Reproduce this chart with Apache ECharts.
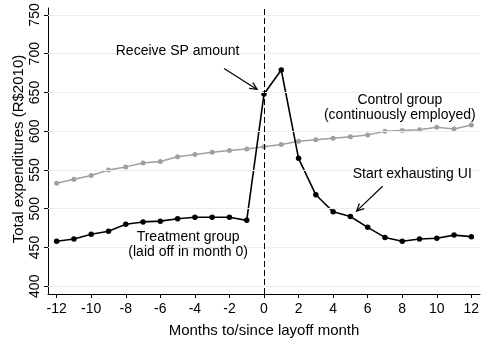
<!DOCTYPE html>
<html>
<head>
<meta charset="utf-8">
<script src="https://cdn.jsdelivr.net/npm/echarts@6/dist/echarts.min.js"></script>
<style>
  html, body { margin: 0; padding: 0; background: #ffffff; }
  #chart { width: 483px; height: 343px; }
</style>
</head>
<body>
<div id="chart"></div>
<script>
// Months relative to the layoff month
const months = [-12, -11, -10, -9, -8, -7, -6, -5, -4, -3, -2, -1, 0,
                1, 2, 3, 4, 5, 6, 7, 8, 9, 10, 11, 12];

// Average total expenditures (R$2010)
const controlGroup = [533, 538, 543, 550, 554, 559, 561, 567, 570, 573, 575, 577, 580,
                      583, 587, 589, 591, 593, 595, 600, 601, 602, 605, 603, 608];
const treatmentGroup = [458, 461, 467, 471, 480, 483, 484, 487, 489, 489, 489, 485, 648,
                        679, 565, 518, 496, 490, 476, 463, 458, 461, 462, 466, 464];

// Tick labels
const xTicks = [-12, -10, -8, -6, -4, -2, 0, 2, 4, 6, 8, 10, 12];
const yTicks = [400, 450, 500, 550, 600, 650, 700, 750];

const FONT = '"Liberation Sans", Arial, Helvetica, sans-serif';

const chart = echarts.init(document.getElementById('chart'), null, { renderer: 'canvas' });

const pairs = (vals) => months.map((m, i) => [m, vals[i]]);

chart.setOption({
  animation: false,
  backgroundColor: '#ffffff',
  grid: { left: 48, right: 3, top: 8, bottom: 40, containLabel: false },
  xAxis: {
    type: 'value',
    min: -12.5,
    max: 12.5,
    name: 'Months to/since layoff month',
    nameLocation: 'middle',
    nameGap: 29,
    nameTextStyle: { fontFamily: FONT, fontSize: 15, color: '#000' },
    axisLine: { show: true, onZero: false, lineStyle: { color: '#000', width: 1 } },
    axisTick: { show: true, length: 4, customValues: xTicks, lineStyle: { color: '#000' } },
    axisLabel: { customValues: xTicks, fontFamily: FONT, fontSize: 14, color: '#000', margin: 8 },
    splitLine: { show: false }
  },
  yAxis: {
    type: 'value',
    min: 390,
    max: 759,
    axisLine: { show: true, onZero: false, lineStyle: { color: '#000', width: 1 } },
    axisTick: { show: true, length: 4, customValues: yTicks, lineStyle: { color: '#000' } },
    axisLabel: { customValues: yTicks, rotate: 90, fontFamily: FONT, fontSize: 14, color: '#000', margin: 6 },
    splitLine: { show: false }
  },
  series: [
    {
      // horizontal grid lines and the layoff-month marker
      type: 'line',
      data: [],
      silent: true,
      z: 1,
      markLine: {
        silent: true,
        symbol: 'none',
        label: { show: false },
        animation: false,
        data: [
          ...yTicks.map(v => ({ yAxis: v, lineStyle: { color: '#e6eff1', width: 1, type: 'solid' } })),
          { xAxis: 0, lineStyle: { color: '#000', width: 1, type: [6, 3] } }
        ]
      }
    },
    {
      name: 'Control group',
      type: 'line',
      data: pairs(controlGroup),
      symbol: 'circle',
      symbolSize: 5,
      z: 3,
      itemStyle: { color: '#a0a0a0' },
      lineStyle: { color: '#a0a0a0', width: 1.5 }
    },
    {
      name: 'Treatment group',
      type: 'line',
      data: pairs(treatmentGroup),
      symbol: 'circle',
      symbolSize: 5.5,
      z: 4,
      itemStyle: { color: '#000' },
      lineStyle: { color: '#000', width: 1.6 }
    }
  ]
});

// Annotation texts and arrows, placed in data coordinates
const notes = [
  { text: 'Receive SP amount', at: [-5.0, 703] },
  { text: 'Control group\n(continuously employed)', at: [7.86, 630] },
  { text: 'Start exhausting UI', at: [8.58, 544] },
  { text: 'Treatment group\n(laid off in month 0)', at: [-4.39, 454] }
];
const arrows = [
  { from: [-2.31, 681], to: [-0.40, 654] },
  { from: [6.86, 529], to: [5.36, 497] }
];

const px = (p) => chart.convertToPixel({ gridIndex: 0 }, p);

const graphics = [
  {
    // vertical axis title
    type: 'text',
    x: 19, y: 149,
    rotation: Math.PI / 2,
    z: 10,
    style: {
      text: 'Total expenditures (R$2010)',
      fill: '#000',
      font: '15px ' + FONT,
      align: 'center',
      verticalAlign: 'middle'
    }
  }
];
notes.forEach(n => {
  const p = px(n.at);
  graphics.push({
    type: 'text',
    x: p[0], y: p[1],
    z: 10,
    style: {
      text: n.text,
      fill: '#000',
      font: '14px ' + FONT,
      align: 'center',
      verticalAlign: 'middle',
      lineHeight: 15
    }
  });
});
arrows.forEach(a => {
  const s = px(a.from), e = px(a.to);
  const ang = Math.atan2(s[1] - e[1], s[0] - e[0]);
  const len = 8, spread = 0.45;
  const h1 = [e[0] + len * Math.cos(ang + spread), e[1] + len * Math.sin(ang + spread)];
  const h2 = [e[0] + len * Math.cos(ang - spread), e[1] + len * Math.sin(ang - spread)];
  graphics.push({
    type: 'polyline', z: 10,
    shape: { points: [s, e] },
    style: { stroke: '#000', lineWidth: 1.2, fill: null }
  });
  graphics.push({
    type: 'polyline', z: 10,
    shape: { points: [h1, e, h2] },
    style: { stroke: '#000', lineWidth: 1.2, fill: null }
  });
});
chart.setOption({ graphic: graphics });
</script>
</body>
</html>
